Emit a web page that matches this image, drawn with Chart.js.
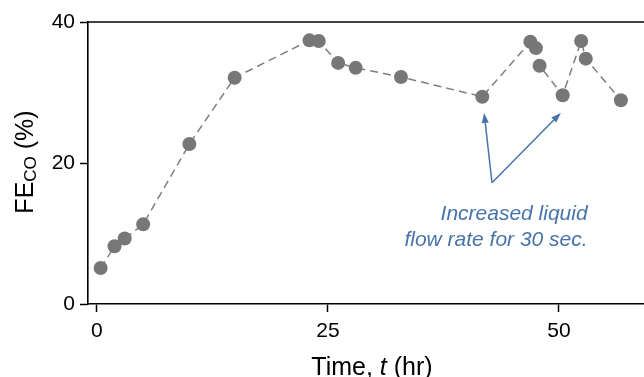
<!DOCTYPE html>
<html>
<head>
<meta charset="utf-8">
<script src="https://cdn.jsdelivr.net/npm/chart.js@4/dist/chart.umd.min.js"></script>
<style>
  html, body { margin: 0; padding: 0; background: #fff; overflow: hidden; }
  #wrap { width: 644px; height: 377px; }
</style>
</head>
<body>
<div id="wrap"><canvas id="c" width="644" height="377"></canvas></div>
<script>
// ---- data ----
const timeHr = [0.4, 1.9, 3.0, 5.0, 10.0, 14.9, 23.0, 24.0, 26.1, 28.0, 32.9, 41.7, 46.9, 47.5, 47.9, 50.4, 52.4, 52.9, 56.7];
const feCO   = [5.1, 8.2, 9.3, 11.3, 22.7, 32.1, 37.4, 37.3, 34.2, 33.5, 32.2, 29.4, 37.2, 36.3, 33.8, 29.6, 37.3, 34.8, 28.9];
const xTicks = [0, 25, 50];
const yTicks = [0, 20, 40];
const annotationLines = ['Increased liquid', 'flow rate for 30 sec.'];

const FONT = "'Liberation Sans', Arial, Helvetica, sans-serif";
const BLUE = '#4773a8';

const points = timeHr.map((t, i) => ({ x: t, y: feCO[i] }));

const framePlugin = {
  id: 'frame',
  beforeDatasetsDraw(chart) {
    const { ctx, chartArea } = chart;
    ctx.save();
    ctx.strokeStyle = '#000';
    ctx.lineWidth = 1.6;
    ctx.beginPath();
    ctx.moveTo(chartArea.left, chartArea.top);
    ctx.lineTo(chartArea.right, chartArea.top);
    ctx.stroke();
    ctx.restore();
  }
};

const labelsPlugin = {
  id: 'labels',
  afterDraw(chart) {
    const { ctx } = chart;
    const xs = chart.scales.x, ys = chart.scales.y;
    ctx.save();
    // x axis title
    ctx.fillStyle = '#000';
    ctx.textBaseline = 'alphabetic';
    const parts = [
      { t: 'Time, ', f: `25px ${FONT}` },
      { t: 't', f: `italic 25px ${FONT}` },
      { t: ' (hr)', f: `25px ${FONT}` }
    ];
    let w = 0;
    parts.forEach(p => { ctx.font = p.f; w += ctx.measureText(p.t).width; });
    let cx = 372 - w / 2;
    ctx.textAlign = 'left';
    parts.forEach(p => { ctx.font = p.f; ctx.fillText(p.t, cx, 375); cx += ctx.measureText(p.t).width; });

    // y axis title (rotated)
    ctx.save();
    ctx.translate(33, 162);
    ctx.rotate(-Math.PI / 2);
    const yp = [
      { t: 'FE', f: `25px ${FONT}`, dy: 0 },
      { t: 'CO', f: `17px ${FONT}`, dy: 3 },
      { t: ' (%)', f: `25px ${FONT}`, dy: 0 }
    ];
    let yw = 0;
    yp.forEach(p => { ctx.font = p.f; yw += ctx.measureText(p.t).width; });
    let yx = -yw / 2;
    yp.forEach(p => { ctx.font = p.f; ctx.fillText(p.t, yx, p.dy); yx += ctx.measureText(p.t).width; });
    ctx.restore();

    // annotation text
    ctx.fillStyle = BLUE;
    ctx.font = `italic 21px ${FONT}`;
    ctx.textAlign = 'right';
    ctx.textBaseline = 'middle';
    const tx = xs.getPixelForValue(53.1);
    ctx.fillText(annotationLines[0], tx, ys.getPixelForValue(12.8));
    ctx.fillText(annotationLines[1], tx, ys.getPixelForValue(9.0));

    // arrows
    const tail = { x: xs.getPixelForValue(42.75), y: ys.getPixelForValue(17.2) };
    const tips = [
      { x: xs.getPixelForValue(41.9), y: ys.getPixelForValue(27.1) },
      { x: xs.getPixelForValue(50.2), y: ys.getPixelForValue(27.1) }
    ];
    ctx.strokeStyle = BLUE;
    ctx.lineWidth = 1.5;
    tips.forEach(tp => {
      const ang = Math.atan2(tp.y - tail.y, tp.x - tail.x);
      const hl = 10, hw = 3.5;
      const bx = tp.x - hl * Math.cos(ang), by = tp.y - hl * Math.sin(ang);
      ctx.beginPath();
      ctx.moveTo(tail.x, tail.y);
      ctx.lineTo(bx, by);
      ctx.stroke();
      ctx.beginPath();
      ctx.moveTo(tp.x, tp.y);
      ctx.lineTo(bx + hw * Math.sin(ang), by - hw * Math.cos(ang));
      ctx.lineTo(bx - hw * Math.sin(ang), by + hw * Math.cos(ang));
      ctx.closePath();
      ctx.fill();
    });
    ctx.restore();
  }
};

new Chart(document.getElementById('c'), {
  type: 'scatter',
  data: {
    datasets: [{
      data: points,
      showLine: true,
      borderColor: '#7f7f7f',
      borderWidth: 1.5,
      borderDash: [8, 5],
      pointRadius: 7,
      pointHoverRadius: 7,
      pointBackgroundColor: '#777777',
      pointBorderWidth: 0,
      clip: false
    }]
  },
  options: {
    responsive: false,
    animation: false,
    events: [],
    layout: { autoPadding: false, padding: { top: 22, right: 0, left: 0, bottom: 0 } },
    plugins: { legend: { display: false }, tooltip: { enabled: false } },
    scales: {
      x: {
        type: 'linear',
        min: -0.97,
        max: 59.2,
        afterBuildTicks: s => { s.ticks = xTicks.map(v => ({ value: v })); },
        afterFit: s => { s.height = 73; },
        grid: { drawOnChartArea: false, drawTicks: true, tickLength: 8, tickColor: '#000', tickWidth: 1.5 },
        border: { display: true, color: '#000', width: 1.6 },
        ticks: { color: '#000', font: { family: FONT, size: 21 }, padding: 7, maxRotation: 0 }
      },
      y: {
        type: 'linear',
        min: 0,
        max: 40,
        afterBuildTicks: s => { s.ticks = yTicks.map(v => ({ value: v })); },
        afterFit: s => { s.width = 88; },
        grid: { drawOnChartArea: false, drawTicks: true, tickLength: 8, tickColor: '#000', tickWidth: 1.5 },
        border: { display: true, color: '#000', width: 1.6 },
        ticks: { color: '#000', font: { family: FONT, size: 21 }, padding: 5 }
      }
    }
  },
  plugins: [framePlugin, labelsPlugin]
});
</script>
</body>
</html>
